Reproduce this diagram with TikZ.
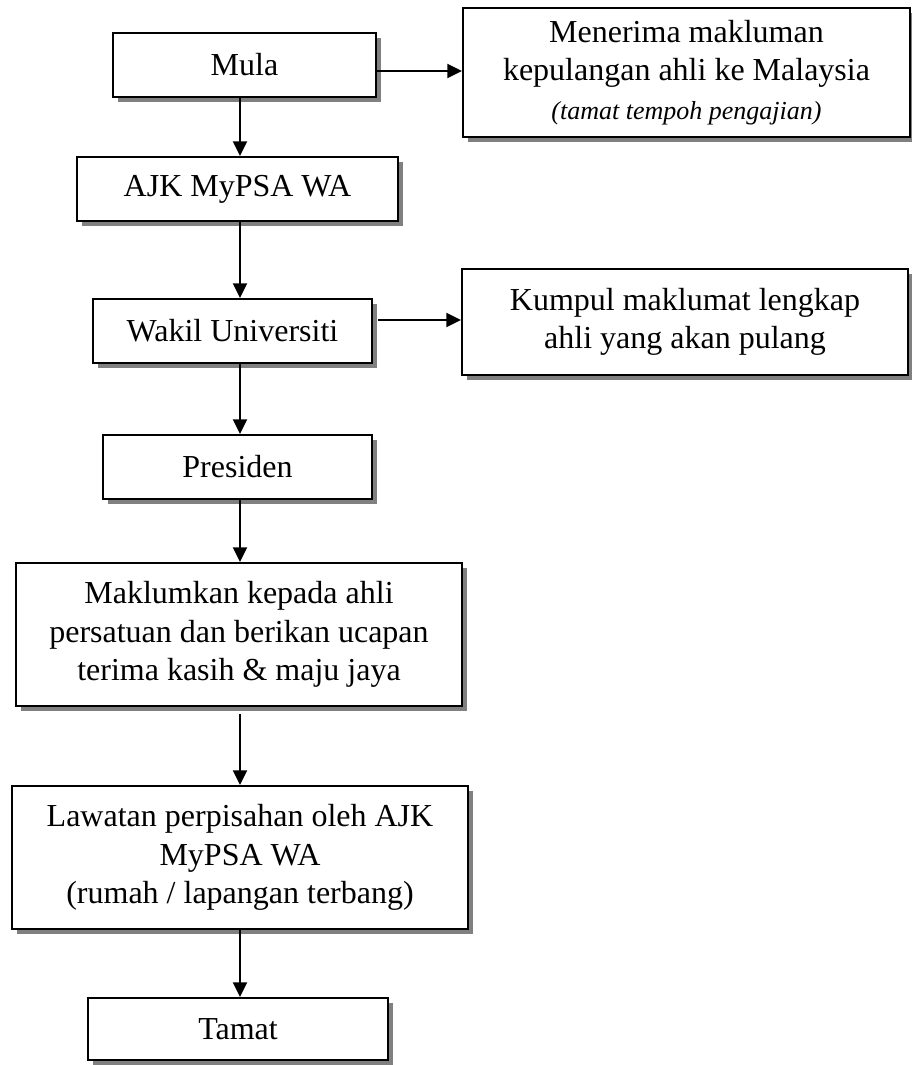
\documentclass[tikz,border=0pt]{standalone}
\usepackage{fontspec}
\setmainfont{Liberation Serif}
\usetikzlibrary{arrows.meta,shadows}
\begin{document}
\begin{tikzpicture}[x=0.75pt,y=-0.75pt,
  fbox/.style={draw=black, line width=1.6pt, fill=white, inner sep=0pt, align=center,
    font=\fontsize{24}{28.8}\selectfont,
    drop shadow={shadow xshift=4pt, shadow yshift=-4pt, fill=black!50, opacity=1}},
  arr/.style={line width=1.6pt, -{Triangle[length=11pt,width=10.5pt]}}]
\useasboundingbox (0,0) rectangle (912,1065);
\node[fbox, minimum width=197.25pt, minimum height=48pt] (mula) at (244.5,65) {Mula};
\node[fbox, minimum width=335.25pt, minimum height=96.75pt] (men) at (686.5,72.5)
  {Menerima makluman\\kepulangan ahli ke Malaysia\\{\fontsize{19.5}{28}\selectfont\itshape (tamat tempoh pengajian)}};
\node[fbox, minimum width=240.75pt, minimum height=48pt] (ajk) at (237.5,189) {AJK MyPSA WA};
\node[fbox, minimum width=209.25pt, minimum height=48pt] (wakil) at (232.5,331) {Wakil Universiti};
\node[fbox, minimum width=334.5pt, minimum height=79.5pt] (kumpul) at (685,322)
  {Kumpul maklumat lengkap\\ahli yang akan pulang};
\node[fbox, minimum width=201.75pt, minimum height=48pt] (pres) at (237.5,467) {Presiden};
\node[fbox, minimum width=334.5pt, minimum height=107.25pt] (makl) at (239,634.5)
  {Maklumkan kepada ahli\\persatuan dan berikan ucapan\\terima kasih \& maju jaya};
\node[fbox, minimum width=342pt, minimum height=107.25pt] (law) at (240,857.5)
  {Lawatan perpisahan oleh AJK\\MyPSA WA\\(rumah / lapangan terbang)};
\node[fbox, minimum width=225pt, minimum height=46.5pt] (tamat) at (238,1029) {Tamat};
\draw[arr] ([yshift=-4.5pt]mula.east) -- ([yshift=-4.5pt]mula.east -| men.west);
\draw[arr] ([xshift=3.75pt,yshift=8.25pt]wakil.east) -- ([yshift=8.25pt]wakil.east -| kumpul.west);
\draw[arr] (mula.south -| law) -- (ajk.north -| law);
\draw[arr] (ajk.south -| law) -- (wakil.north -| law);
\draw[arr] (wakil.south -| law) -- (pres.north -| law);
\draw[arr] (pres.south -| law) -- (makl.north -| law);
\draw[arr] ([yshift=-5.25pt]makl.south -| law) -- (law.north);
\draw[arr] (law.south) -- (tamat.north -| law);
\end{tikzpicture}
\end{document}
